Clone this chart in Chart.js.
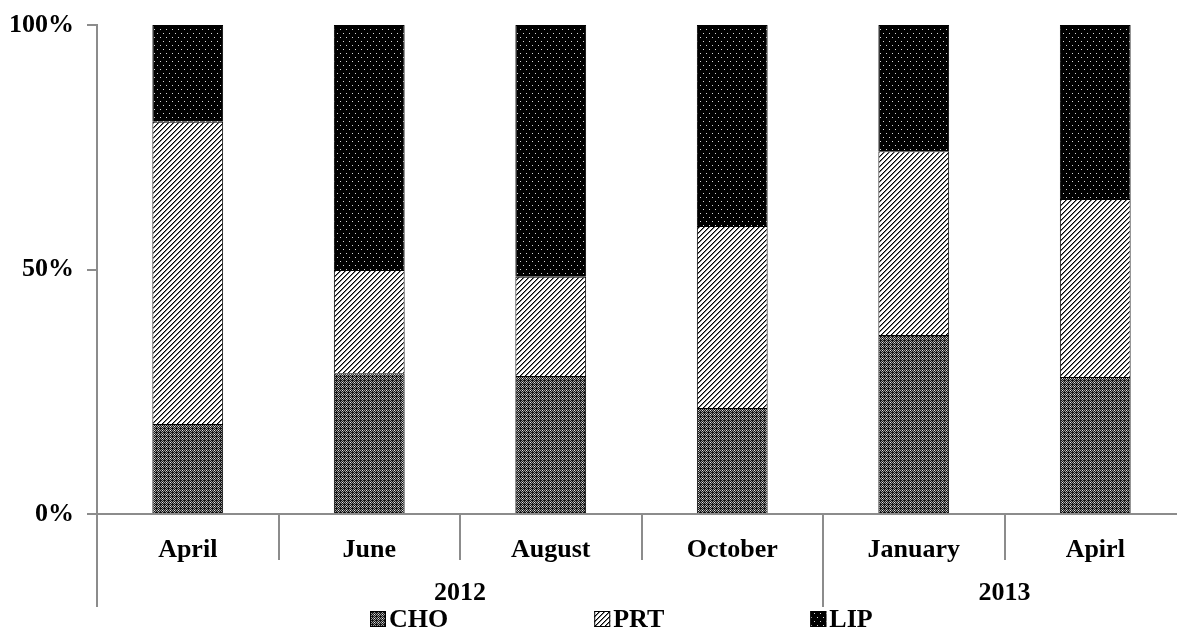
<!DOCTYPE html>
<html>
<head>
<meta charset="utf-8">
<script src="https://cdn.jsdelivr.net/npm/chart.js@4.4.1/dist/chart.umd.min.js"></script>
<style>
  html, body { margin: 0; padding: 0; overflow: hidden; background: #fff; }
  canvas { display: block; }
</style>
</head>
<body>
<canvas id="nutrientChart" width="1186" height="634"></canvas>
<script>
// months sampled, and the year each one belongs to
const months = ["April", "June", "August", "October", "January", "Apirl"];
const years = ["2012", "2012", "2012", "2012", "2013", "2013"];

// share of each component (%)
const cho = [18.4, 28.8, 28.2, 21.7, 36.6, 28.0];
const prt = [61.8, 21.1, 20.3, 37.2, 37.6, 36.4];
const lip = [19.8, 50.1, 51.5, 41.1, 25.8, 35.6];

const yTicks = [0, 50, 100];

const axisGray = "#8c8c8c";
const font = "bold 26px 'Liberation Serif', 'Times New Roman', serif";

const canvas = document.getElementById("nutrientChart");
const ctx = canvas.getContext("2d");

// small pixel tiles for the hatch fills
function tile(w, h, bg, paint) {
    const c = document.createElement("canvas");
    c.width = w; c.height = h;
    const g = c.getContext("2d");
    g.fillStyle = bg;
    g.fillRect(0, 0, w, h);
    for (let y = 0; y < h; y++)
        for (let x = 0; x < w; x++) {
            const col = paint(x, y);
            if (col) { g.fillStyle = col; g.fillRect(x, y, 1, 1); }
        }
    return ctx.createPattern(c, "repeat");
}

const choFill = tile(8, 8, "#151515", (x, y) => {
    if ((x + y) % 2 !== 0) return null;
    if (x % 4 === 0 && y % 4 === 0) return null;
    if (x % 4 === 2 && y % 4 === 2) return "#e8e8e8";
    return "#9a9a9a";
});
const prtFill = tile(5, 5, "#ffffff", (x, y) => {
    const d = (x + y) % 5;
    return d === 0 ? "#000000" : d === 1 ? "#7a7a7a" : null;
});
const lipFill = tile(6, 8, "#000000", (x, y) =>
    (x === 1 && y === 1) || (x === 4 && y === 5) ? "#d8d8d8" : null);

// extra axis decorations: group dividers, year row, legend
const decorations = {
    id: "decorations",
    afterDraw(chart) {
        const g = chart.ctx;
        const xs = chart.scales.x;
        const area = chart.chartArea;
        g.save();
        g.strokeStyle = axisGray;
        g.lineWidth = 2;

        // y axis continues down through the label rows
        g.beginPath();
        g.moveTo(area.left, area.bottom);
        g.lineTo(area.left, 607);
        g.stroke();

        for (let i = 1; i < months.length; i++) {
            const x = Math.round((xs.getPixelForValue(i - 1) + xs.getPixelForValue(i)) / 2);
            const yEnd = years[i] !== years[i - 1] ? 607 : 560;
            g.beginPath();
            g.moveTo(x, area.bottom);
            g.lineTo(x, yEnd);
            g.stroke();
        }

        // year labels centred under their months
        g.fillStyle = "#000";
        g.font = font;
        g.textAlign = "center";
        g.textBaseline = "middle";
        let start = 0;
        for (let i = 1; i <= years.length; i++) {
            if (i === years.length || years[i] !== years[start]) {
                const cx = (xs.getPixelForValue(start) + xs.getPixelForValue(i - 1)) / 2;
                g.fillText(years[start], cx, 593);
                start = i;
            }
        }

        // legend row
        g.textAlign = "left";
        let lx = 370;
        const ly = 619;
        chart.data.datasets.forEach(ds => {
            g.fillStyle = ds.backgroundColor;
            g.fillRect(lx, ly - 8, 16, 16);
            g.strokeStyle = "#000";
            g.lineWidth = 1;
            g.strokeRect(lx + 0.5, ly - 7.5, 15, 15);
            g.fillStyle = "#000";
            g.fillText(ds.label, lx + 19, ly + 1);
            lx += 19 + g.measureText(ds.label).width + 146;
        });
        g.restore();
    }
};

const barStyle = { borderColor: "#000", borderWidth: 1, barPercentage: 0.39, categoryPercentage: 1 };
const tickFont = { family: "'Liberation Serif', serif", size: 26, weight: "bold" };

new Chart(canvas, {
    type: "bar",
    data: {
        labels: months,
        datasets: [
            { label: "CHO", data: cho, backgroundColor: choFill, ...barStyle },
            { label: "PRT", data: prt, backgroundColor: prtFill, ...barStyle },
            { label: "LIP", data: lip, backgroundColor: lipFill, ...barStyle }
        ]
    },
    options: {
        responsive: false,
        maintainAspectRatio: false,
        animation: false,
        layout: { padding: { top: 25, right: 0, left: 0, bottom: 0 } },
        plugins: { legend: { display: false }, tooltip: { enabled: false } },
        scales: {
            x: {
                stacked: true,
                grid: { display: false },
                border: { color: axisGray, width: 2 },
                ticks: { color: "#000", font: tickFont, padding: 13, maxRotation: 0 },
                afterFit: s => { s.height = 120; s.paddingLeft = 0; s.paddingRight = 0; }
            },
            y: {
                stacked: true,
                min: 0,
                max: 100,
                afterBuildTicks: s => { s.ticks = yTicks.map(v => ({ value: v })); },
                grid: { drawOnChartArea: false, drawTicks: true, tickLength: 10, color: axisGray, lineWidth: 2 },
                border: { color: axisGray, width: 2 },
                ticks: { color: "#000", font: tickFont, padding: 13, callback: v => v + "%" },
                afterFit: s => { s.width = 97; s.paddingTop = 0; s.paddingBottom = 0; }
            }
        }
    },
    plugins: [decorations]
});
</script>
</body>
</html>
